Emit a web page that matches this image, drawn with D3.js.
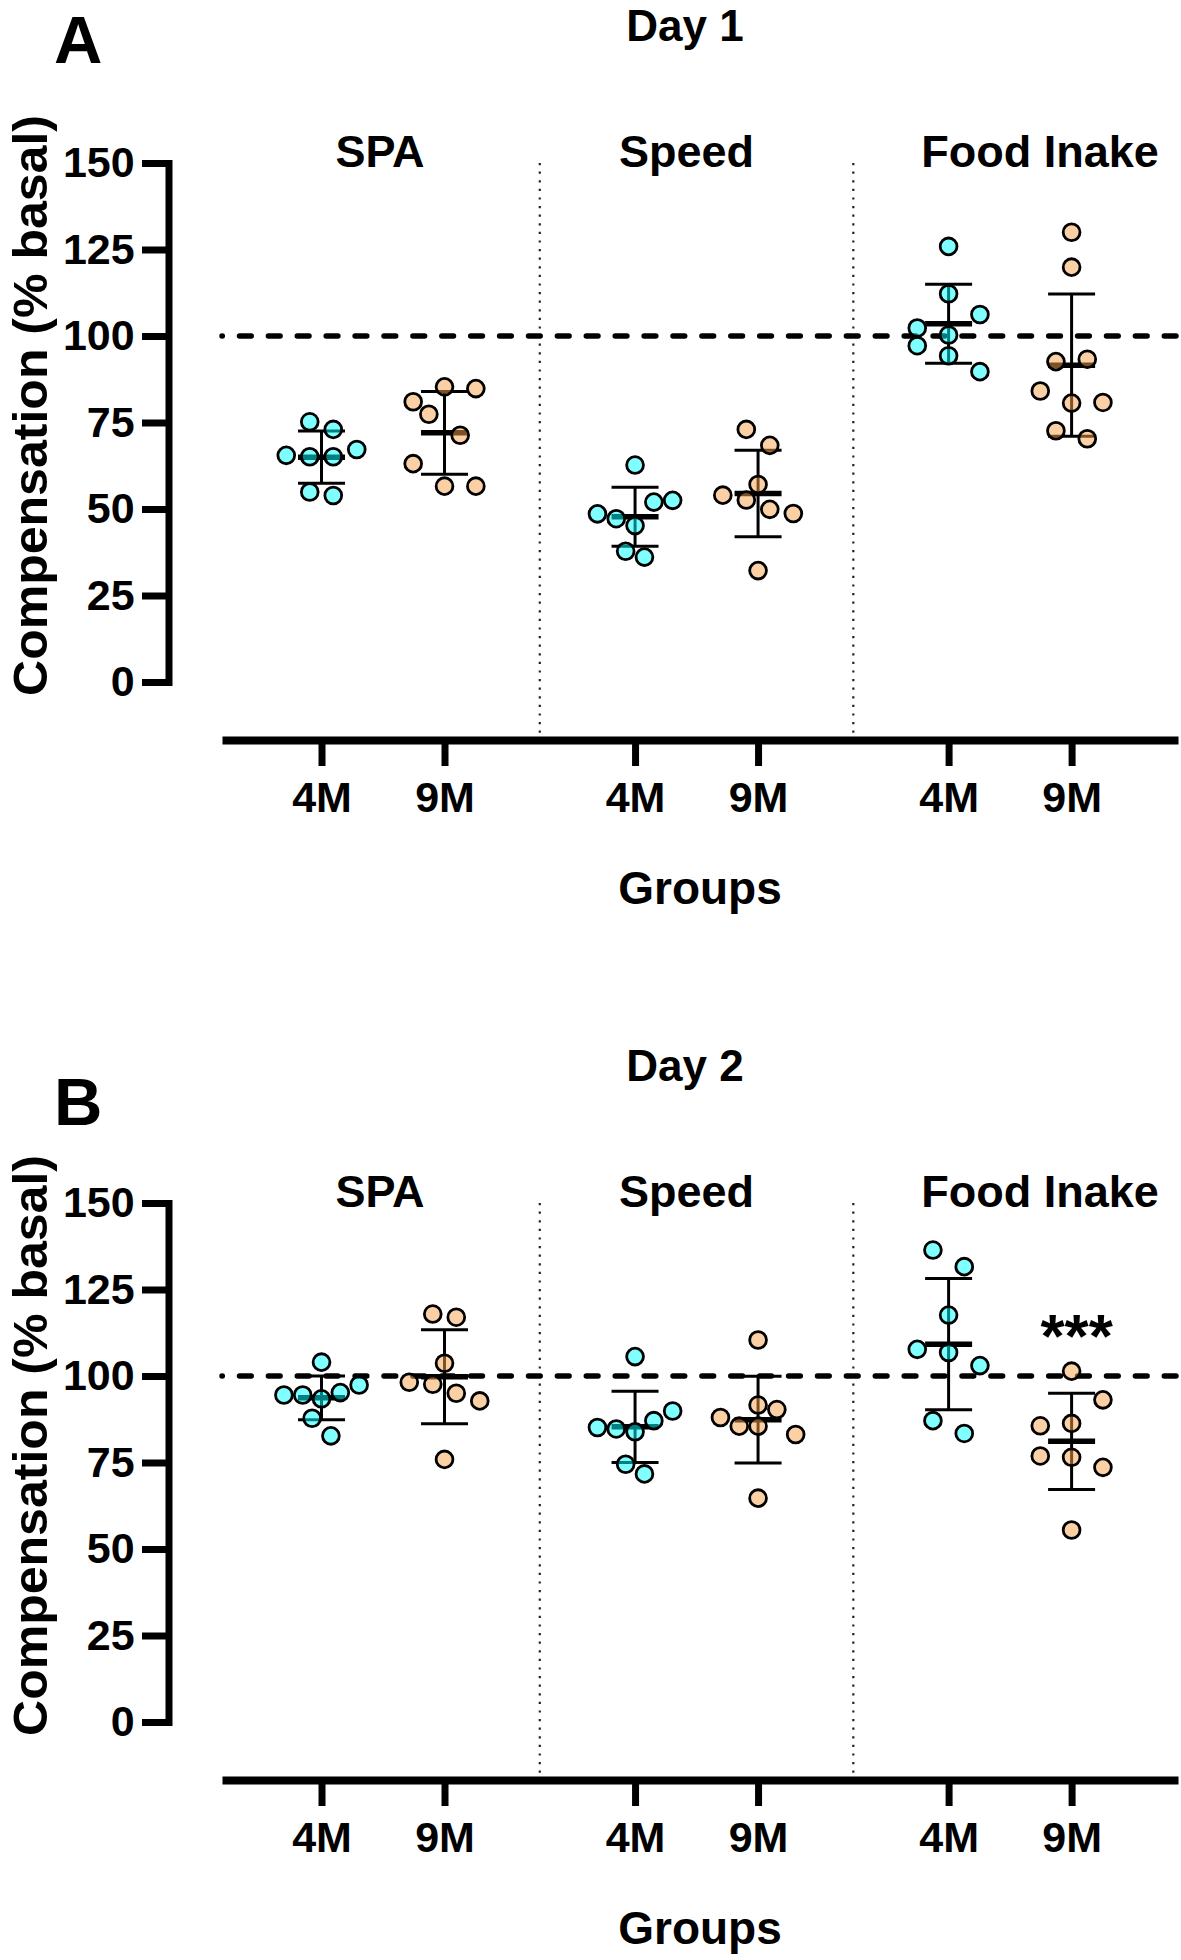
<!DOCTYPE html>
<html>
<head>
<meta charset="utf-8">
<script src="https://cdn.jsdelivr.net/npm/d3@7"></script>
<style>
  body { margin: 0; background: #fff; }
  svg { display: block; font-family: "Liberation Sans", Arial, sans-serif; font-weight: bold; }
</style>
</head>
<body>
<svg id="chart" width="1181" height="1960"></svg>
<script>
const measures = ["SPA", "Speed", "Food Inake"];
const ages = ["4M", "9M"];
const yTicks = [0, 25, 50, 75, 100, 125, 150];

// compensation, % of basal, one value per animal
const day1SPA4M = [75.2, 73.0, 65.5, 65.1, 65.1, 67.2, 54.9, 53.9];
const day1SPA9M = [81.0, 85.3, 84.8, 77.4, 71.3, 63.1, 56.6, 56.6];
const day1Speed4M = [62.7, 48.6, 47.2, 45.2, 52.0, 52.5, 37.8, 36.1];
const day1Speed9M = [73.0, 68.4, 57.1, 54.0, 52.6, 49.9, 48.7, 32.2];
const day1Food4M = [125.9, 112.2, 102.3, 100.3, 106.2, 97.2, 94.3, 89.7];
const day1Food9M = [130.0, 119.9, 92.6, 93.3, 84.1, 80.6, 80.8, 72.6, 70.3];

const day2SPA4M = [104.0, 94.5, 94.5, 93.4, 95.2, 97.4, 87.8, 82.7];
const day2SPA9M = [117.9, 117.0, 103.7, 98.2, 97.6, 95.0, 92.8, 75.9];
const day2Speed4M = [105.6, 85.1, 84.7, 83.9, 87.1, 89.9, 74.5, 71.7];
const day2Speed9M = [110.4, 91.6, 88.0, 85.5, 85.5, 90.3, 83.1, 64.7];
const day2Food4M = [136.4, 131.6, 117.6, 107.7, 106.8, 103.0, 87.1, 83.4];
const day2Food9M = [101.4, 85.6, 86.3, 93.1, 76.9, 76.5, 73.6, 55.5];

const panels = [
    { letter: "A", title: "Day 1", offset: 0, letterY: 63,
      data: [[day1SPA4M, day1SPA9M], [day1Speed4M, day1Speed9M], [day1Food4M, day1Food9M]],
      stars: [] },
    { letter: "B", title: "Day 2", offset: 1040, letterY: 85,
      data: [[day2SPA4M, day2SPA9M], [day2Speed4M, day2Speed9M], [day2Food4M, day2Food9M]],
      stars: [{ measure: 2, age: 1, text: "***" }] }
];

const colors = ["#00ffff", "#f8a14a"];
const gap = 0.549;
const slot = (m, a) => m * (2 + gap) + a;
const x = d3.scaleLinear().domain([-0.809, 6.963]).range([222, 1178]);

const svg = d3.select("#chart");

// Prism style scatter: rows of close values, spread evenly around the centre
function swarm(values, y) {
    const rowHeight = 26.6;
    const swarmWidth = 94;
    const order = d3.range(values.length).sort((a, b) => values[a] - values[b]);
    const rows = [];
    let cur = null;
    order.forEach(i => {
        if (cur && y(values[cur[0]]) - y(values[i]) < rowHeight) cur.push(i);
        else { cur = [i]; rows.push(cur); }
    });
    const step = swarmWidth / d3.max(rows, r => r.length);
    const dx = [];
    rows.forEach(r => {
        r.sort((a, b) => a - b);
        r.forEach((i, k) => dx[i] = (k - (r.length - 1) / 2) * step);
    });
    return values.map((v, i) => ({ v: v, dx: dx[i] }));
}

panels.forEach(p => {
    const off = p.offset;
    const y = d3.scaleLinear().domain([0, 150]).range([682 + off, 163 + off]);
    const g = svg.append("g");

    g.append("text").attr("x", 54).attr("y", p.letterY + off)
        .attr("font-size", 67).text(p.letter);
    g.append("text").attr("x", 685).attr("y", 41 + off)
        .attr("text-anchor", "middle").attr("font-size", 44).text(p.title);

    // separators between the measures
    [slot(0, 1) / 2 + slot(1, 0) / 2, slot(1, 1) / 2 + slot(2, 0) / 2].forEach(s => {
        g.append("line")
            .attr("x1", x(s)).attr("x2", x(s))
            .attr("y1", y(150)).attr("y2", 736 + off)
            .attr("stroke", "#222").attr("stroke-width", 2.2)
            .attr("stroke-dasharray", "2.2 6.4");
    });

    // measure titles
    const titleX = [x(0.5) - 3, x(slot(1, 0) + 0.5) - 10, x(slot(2, 0) + 0.5) + 30];
    measures.forEach((m, i) => {
        g.append("text").attr("x", titleX[i]).attr("y", 166.7 + off)
            .attr("text-anchor", "middle").attr("font-size", 45).text(m);
    });

    // 100 % reference line
    g.append("line")
        .attr("x1", x.range()[0]).attr("x2", x.range()[1])
        .attr("y1", y(100)).attr("y2", y(100))
        .attr("stroke", "#000").attr("stroke-width", 5.5)
        .attr("stroke-linecap", "round")
        .attr("stroke-dasharray", "11.7 17.2")
        .attr("stroke-dashoffset", 11.4);

    // y axis
    const yAxis = g.append("g").attr("transform", "translate(168.5,0)")
        .call(d3.axisLeft(y).tickValues(yTicks).tickSize(26.5).tickPadding(7.3).tickSizeOuter(0));
    yAxis.attr("font-family", null).attr("font-size", null);
    yAxis.select(".domain").attr("stroke-width", 7).attr("stroke-linecap", "square");
    yAxis.selectAll(".tick line").attr("stroke-width", 7);
    yAxis.selectAll(".tick text").attr("font-size", 43);

    // x axis
    const positions = [];
    measures.forEach((m, mi) => ages.forEach((a, ai) => positions.push(slot(mi, ai))));
    const xAxis = g.append("g").attr("transform", `translate(0,${740 + off})`)
        .call(d3.axisBottom(x).tickValues(positions).tickSize(26).tickSizeOuter(0)
            .tickFormat((d, i) => ages[i % 2]));
    xAxis.attr("font-family", null).attr("font-size", null);
    xAxis.select(".domain").attr("stroke-width", 8);
    xAxis.selectAll(".tick line").attr("stroke-width", 7);
    xAxis.selectAll(".tick text").attr("font-size", 43).attr("y", 71.7).attr("dy", null);

    g.append("text").attr("x", 700).attr("y", 904 + off)
        .attr("text-anchor", "middle").attr("font-size", 46).text("Groups");
    g.append("text")
        .attr("transform", `translate(47,${405.5 + off}) rotate(-90)`)
        .attr("text-anchor", "middle").attr("font-size", 49)
        .attr("textLength", 581).attr("lengthAdjust", "spacingAndGlyphs")
        .text("Compensation (% basal)");

    // scatter + mean ± SD
    p.data.forEach((pair, mi) => {
        pair.forEach((values, ai) => {
            const cx = x(slot(mi, ai));
            const mean = d3.mean(values);
            const sd = d3.deviation(values);
            const bars = g.append("g").attr("stroke", "#000");
            bars.append("line").attr("x1", cx).attr("x2", cx)
                .attr("y1", y(mean + sd)).attr("y2", y(mean - sd)).attr("stroke-width", 3);
            [mean + sd, mean - sd].forEach(v => {
                bars.append("line").attr("x1", cx - 23.5).attr("x2", cx + 23.5)
                    .attr("y1", y(v)).attr("y2", y(v)).attr("stroke-width", 3);
            });
            bars.append("line").attr("x1", cx - 23.5).attr("x2", cx + 23.5)
                .attr("y1", y(mean)).attr("y2", y(mean)).attr("stroke-width", 5.5);

            g.append("g").selectAll("circle")
                .data(swarm(values, y))
                .enter()
                .append("circle")
                .attr("cx", d => cx + d.dx)
                .attr("cy", d => y(d.v))
                .attr("r", 8.4)
                .attr("fill", colors[ai])
                .attr("fill-opacity", 0.5)
                .attr("stroke", "#000")
                .attr("stroke-width", 2.8);
        });
    });

    p.stars.forEach(s => {
        const vals = p.data[s.measure][s.age];
        g.append("text")
            .attr("x", x(slot(s.measure, s.age)) + 5)
            .attr("y", y(d3.max(vals)) - 14)
            .attr("text-anchor", "middle").attr("font-size", 62)
            .text(s.text);
    });
});
</script>
</body>
</html>
